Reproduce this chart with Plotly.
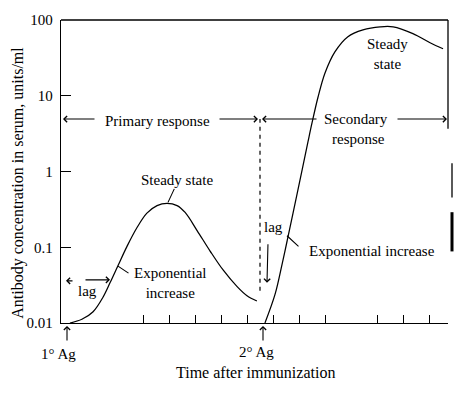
import plotly.graph_objects as go

# ---- data (time in arbitrary units after 1st immunization; antibody units/ml) ----
primary_t = [0.19, 0.65, 1.08, 1.46, 1.73, 2.04, 2.38, 2.77, 3.15, 3.54, 3.92, 4.31, 4.62, 5.08, 5.58,
             6.08, 6.62, 7.0, 7.38]
primary_v = [0.0100, 0.0112, 0.0141, 0.0219, 0.0339, 0.0575, 0.102, 0.182, 0.282, 0.355, 0.380, 0.355,
             0.288, 0.166, 0.0891, 0.0501, 0.0302, 0.0229, 0.0195]
secondary_t = [7.69, 8.08, 8.35, 8.54, 8.77, 9.12, 9.35, 9.50, 9.73, 10.0, 10.38, 10.88, 11.46, 12.12,
               12.62, 13.38, 14.04, 14.54]
secondary_v = [0.0100, 0.024, 0.060, 0.120, 0.282, 1.05, 2.51, 4.37, 9.55, 20.0, 38.0, 60.3, 74.1,
               81.3, 81.3, 66.1, 50.1, 41.7]
y_tick_vals = [0.01, 0.1, 1, 10, 100]
y_tick_text = ["0.01", "0.1", "1", "10", "100"]
x_tick_vals = [3, 4, 5, 6, 7, 8, 9, 10, 12, 13, 14]

FONT = "Liberation Serif"
W, H = 460, 397
L, R, T, B = 61, 448, 14, 323  # plot area in pixels


def px(x):
    return (x - L) / (R - L)


def py(y):
    return (B - y) / (B - T)


fig = go.Figure()
for xs, ys in [(primary_t, primary_v), (secondary_t, secondary_v)]:
    fig.add_trace(go.Scatter(x=xs, y=ys, mode="lines",
                             line=dict(color="black", width=1.25, shape="spline", smoothing=1.0),
                             hoverinfo="skip", showlegend=False))

annotations = []


def text(x, y, s, size=15, **kw):
    annotations.append(dict(x=px(x), y=py(y), xref="paper", yref="paper", text=s, showarrow=False,
                            font=dict(family=FONT, size=size, color="black"), xanchor="center",
                            yanchor="middle", **kw))


def arrow(hx, hy, tx, ty, head=4):
    annotations.append(dict(x=px(hx), y=py(hy), xref="paper", yref="paper", text="", showarrow=True,
                            ax=tx - hx, ay=ty - hy, arrowhead=head, arrowsize=1.1, arrowwidth=1.1,
                            arrowcolor="black", standoff=0, startstandoff=0))


text(157.5, 117, "Primary response")
arrow(63, 115, 96, 115)
arrow(258, 115, 218, 115)
text(356, 115, "Secondary")
text(358, 135, "response")
arrow(262, 115, 318, 115)
arrow(447, 115, 396, 115)
text(177, 177, "Steady state")
arrow(168, 200, 175, 185, head=0)
text(387, 49, "Steady<br>state")
text(170, 282, "Exponential<br>increase")
arrow(118, 265, 130, 273, head=0)
text(87, 290, "lag")
arrow(66, 280, 74, 280)
arrow(110, 279, 84, 279)
text(273, 225, "lag")
arrow(267, 282, 268, 242)
text(372, 250, "Exponential increase")
arrow(287, 234, 300, 246, head=0)
text(58, 355, "1° Ag")
arrow(67, 326, 67, 342)
text(256, 353, "2° Ag")
arrow(263, 326, 263, 342)
text(255, 373, "Time after immunization", size=16)
text(18, 180, "Antibody concentration in serum, units/ml", size=16, textangle=-90)

shapes = [
    dict(type="line", xref="paper", yref="paper", x0=0, x1=1, y0=1, y1=1, line=dict(color="black", width=1.3)),
    dict(type="line", xref="paper", yref="paper", x0=1, x1=1, y0=1, y1=py(125), line=dict(color="black", width=1.3)),
    dict(type="line", xref="paper", yref="paper", x0=px(452), x1=px(452), y0=py(160), y1=py(195),
         line=dict(color="black", width=1.3)),
    dict(type="line", xref="paper", yref="paper", x0=px(452), x1=px(452), y0=py(210), y1=py(250),
         line=dict(color="black", width=3)),
    dict(type="line", xref="paper", yref="paper", x0=px(260), x1=px(260), y0=py(290), y1=py(115),
         line=dict(color="black", width=1.2, dash="4px,4px")),
]

fig.update_layout(
    width=W, height=H, autosize=False,
    margin=dict(l=L, r=W - R, t=T, b=H - B, pad=0),
    paper_bgcolor="white", plot_bgcolor="white",
    font=dict(family=FONT, size=15, color="black"),
    annotations=annotations, shapes=shapes,
    xaxis=dict(range=[-0.154, 14.73], showline=True, linecolor="black", linewidth=1.3, ticks="inside",
               ticklen=8, tickwidth=1.2, tickcolor="black", tickvals=x_tick_vals, showticklabels=False,
               showgrid=False, zeroline=False, fixedrange=True),
    yaxis=dict(type="log", range=[-2, 2], showline=True, linecolor="black", linewidth=1.3, ticks="inside",
               ticklen=10, tickwidth=1.2, tickcolor="black", tickvals=y_tick_vals, ticktext=y_tick_text,
               showgrid=False, zeroline=False, ticklabelstandoff=4, fixedrange=True,
               tickfont=dict(family=FONT, size=15, color="black")),
)

fig.write_html("out.html", config={"displayModeBar": False, "responsive": False},
               post_script="document.body.style.margin='0';document.body.style.overflow='hidden';")
